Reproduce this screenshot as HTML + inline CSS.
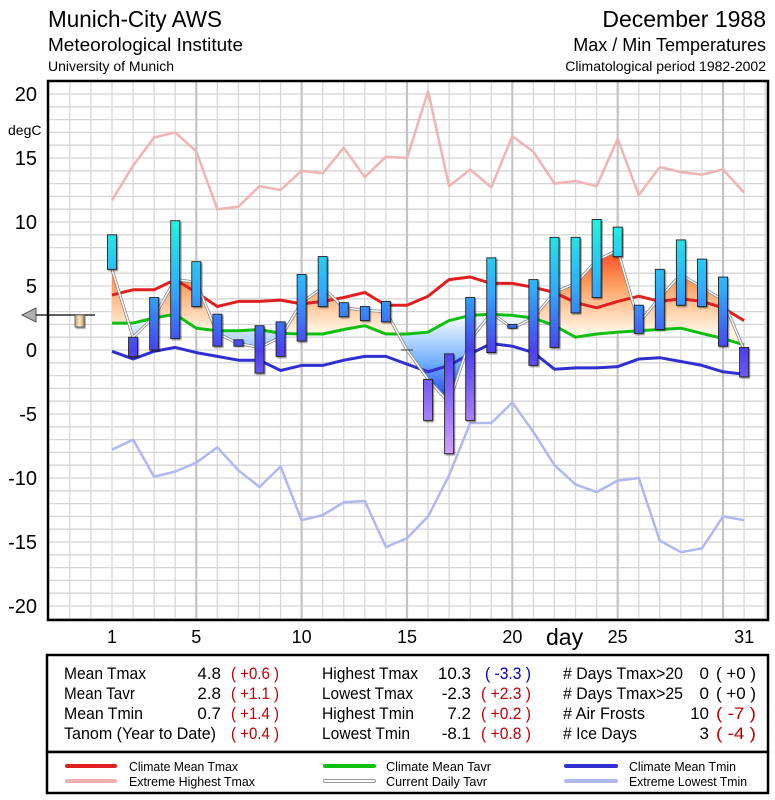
<!DOCTYPE html>
<html><head><meta charset="utf-8"><style>
html,body{margin:0;padding:0;background:#fff}
svg{display:block}
text{font-family:"Liberation Sans Narrow","Liberation Sans",sans-serif}
</style></head><body>
<svg id="c" width="775" height="800" viewBox="0 0 775 800" xmlns="http://www.w3.org/2000/svg">
<defs>
<filter id="sh" x="-20%" y="-20%" width="140%" height="140%"><feDropShadow dx="1.2" dy="1.2" stdDeviation="0.8" flood-color="#000" flood-opacity="0.5"/></filter>
<linearGradient id="barG" gradientUnits="userSpaceOnUse" x1="0" y1="222" x2="0" y2="455">
<stop offset="0" stop-color="#20f4e0"/><stop offset="0.3" stop-color="#30a8ff"/><stop offset="0.55" stop-color="#4a40f0"/><stop offset="1" stop-color="#d8a0ff"/></linearGradient>
<linearGradient id="orG" gradientUnits="userSpaceOnUse" x1="0" y1="240" x2="0" y2="330">
<stop offset="0" stop-color="#ff2a10"/><stop offset="0.5" stop-color="#ffa060"/><stop offset="1" stop-color="#fff4e0"/></linearGradient>
<linearGradient id="blG" gradientUnits="userSpaceOnUse" x1="0" y1="320" x2="0" y2="405">
<stop offset="0" stop-color="#eef6ff"/><stop offset="0.5" stop-color="#70b0ff"/><stop offset="1" stop-color="#1030ff"/></linearGradient>
<linearGradient id="tanG" x1="0" y1="0" x2="1" y2="0"><stop offset="0" stop-color="#c8a070"/><stop offset="0.5" stop-color="#ffe8c0"/><stop offset="1" stop-color="#c8a070"/></linearGradient>
<clipPath id="clipAbove"><path id="cpA"/></clipPath>
<clipPath id="clipBelow"><path id="cpB"/></clipPath>
</defs>
<g>
<text x="48" y="27" font-size="23" textLength="174" lengthAdjust="spacingAndGlyphs">Munich-City AWS</text>
<text x="48" y="51" font-size="18" textLength="195" lengthAdjust="spacingAndGlyphs">Meteorological Institute</text>
<text x="48" y="71" font-size="14">University of Munich</text>
<text x="766" y="27" font-size="23" text-anchor="end">December 1988</text>
<text x="766" y="51" font-size="18" text-anchor="end">Max / Min Temperatures</text>
<text x="766" y="71" font-size="14" text-anchor="end">Climatological period 1982-2002</text>
</g>
<g id="grid"></g>
<g id="plot"></g>
<rect x="48" y="81" width="720" height="539" fill="none" stroke="#000" stroke-width="2.5"/>
<g id="axes"></g>
<text x="8" y="135" font-size="14">degC</text>
<text x="546" y="645" font-size="23">day</text>
<g>
<polygon points="22,315 36,308 36,322" fill="#b0b0b0" stroke="#555" stroke-width="1"/>
<line x1="36" y1="315" x2="95" y2="315" stroke="#000" stroke-width="1.2"/>
<rect x="75" y="315" width="9" height="12" fill="url(#tanG)" stroke="#555" stroke-width="0.8" filter="url(#sh)"/>
</g>
<g>
<rect x="47" y="655" width="721" height="97" fill="#fff" stroke="#000" stroke-width="2.5"/>
<g font-size="17">
<text x="64" y="679" textLength="82" lengthAdjust="spacingAndGlyphs">Mean Tmax</text><text x="221" y="679" text-anchor="end">4.8</text><text x="231" y="679" textLength="48" lengthAdjust="spacingAndGlyphs" fill="#c00000">( +0.6 )</text>
<text x="64" y="699" textLength="71" lengthAdjust="spacingAndGlyphs">Mean Tavr</text><text x="221" y="699" text-anchor="end">2.8</text><text x="231" y="699" textLength="48" lengthAdjust="spacingAndGlyphs" fill="#c00000">( +1.1 )</text>
<text x="64" y="719" textLength="79" lengthAdjust="spacingAndGlyphs">Mean Tmin</text><text x="221" y="719" text-anchor="end">0.7</text><text x="231" y="719" textLength="48" lengthAdjust="spacingAndGlyphs" fill="#c00000">( +1.4 )</text>
<text x="64" y="739" textLength="152" lengthAdjust="spacingAndGlyphs">Tanom (Year to Date)</text><text x="231" y="739" textLength="48" lengthAdjust="spacingAndGlyphs" fill="#c00000">( +0.4 )</text>
<text x="322" y="679" textLength="96" lengthAdjust="spacingAndGlyphs">Highest Tmax</text><text x="471" y="679" text-anchor="end">10.3</text><text x="485" y="679" textLength="46" lengthAdjust="spacingAndGlyphs" fill="#0000c0">( -3.3 )</text>
<text x="322" y="699" textLength="91" lengthAdjust="spacingAndGlyphs">Lowest Tmax</text><text x="471" y="699" text-anchor="end">-2.3</text><text x="481" y="699" textLength="50" lengthAdjust="spacingAndGlyphs" fill="#c00000">( +2.3 )</text>
<text x="322" y="719" textLength="92" lengthAdjust="spacingAndGlyphs">Highest Tmin</text><text x="471" y="719" text-anchor="end">7.2</text><text x="481" y="719" textLength="50" lengthAdjust="spacingAndGlyphs" fill="#c00000">( +0.2 )</text>
<text x="322" y="739" textLength="88" lengthAdjust="spacingAndGlyphs">Lowest Tmin</text><text x="471" y="739" text-anchor="end">-8.1</text><text x="481" y="739" textLength="50" lengthAdjust="spacingAndGlyphs" fill="#c00000">( +0.8 )</text>
<text x="563" y="679" textLength="120" lengthAdjust="spacingAndGlyphs"># Days Tmax&gt;20</text><text x="709" y="679" text-anchor="end">0</text><text x="716" y="679" textLength="40" lengthAdjust="spacingAndGlyphs">( +0 )</text>
<text x="563" y="699" textLength="120" lengthAdjust="spacingAndGlyphs"># Days Tmax&gt;25</text><text x="709" y="699" text-anchor="end">0</text><text x="716" y="699" textLength="40" lengthAdjust="spacingAndGlyphs">( +0 )</text>
<text x="563" y="719" textLength="82" lengthAdjust="spacingAndGlyphs"># Air Frosts</text><text x="709" y="719" text-anchor="end">10</text><text x="716" y="719" textLength="40" lengthAdjust="spacingAndGlyphs" fill="#c00000">( -7 )</text>
<text x="563" y="739" textLength="74" lengthAdjust="spacingAndGlyphs"># Ice Days</text><text x="709" y="739" text-anchor="end">3</text><text x="716" y="739" textLength="40" lengthAdjust="spacingAndGlyphs" fill="#c00000">( -4 )</text>
</g></g>
<g>
<rect x="47" y="752" width="721" height="41" fill="#fff" stroke="#000" stroke-width="2.5"/>
<g font-size="13" stroke-linecap="round">
<line x1="67" y1="766" x2="115" y2="766" stroke="#e02020" stroke-width="4"/><text x="129" y="771" textLength="109" lengthAdjust="spacingAndGlyphs">Climate Mean Tmax</text>
<line x1="67" y1="781" x2="115" y2="781" stroke="#f0b0b0" stroke-width="4"/><text x="129" y="786" textLength="126" lengthAdjust="spacingAndGlyphs">Extreme Highest Tmax</text>
<line x1="325" y1="766" x2="374" y2="766" stroke="#10c010" stroke-width="4"/><text x="386" y="771" textLength="105" lengthAdjust="spacingAndGlyphs">Climate Mean Tavr</text>
<line x1="325" y1="781" x2="374" y2="781" stroke="#999" stroke-width="4"/><line x1="325" y1="781" x2="374" y2="781" stroke="#fff" stroke-width="2"/><text x="386" y="786" textLength="101" lengthAdjust="spacingAndGlyphs">Current Daily Tavr</text>
<line x1="566" y1="766" x2="616" y2="766" stroke="#3030d0" stroke-width="4"/><text x="629" y="771" textLength="107" lengthAdjust="spacingAndGlyphs">Climate Mean Tmin</text>
<line x1="566" y1="781" x2="616" y2="781" stroke="#b0b8f0" stroke-width="4"/><text x="629" y="786" textLength="118" lengthAdjust="spacingAndGlyphs">Extreme Lowest Tmin</text>
</g></g>
</svg>
<script>
const days=[1,2,3,4,5,6,7,8,9,10,11,12,13,14,15,16,17,18,19,20,21,22,23,24,25,26,27,28,29,30,31];
const tmax=[9.0,1.0,4.1,10.1,6.9,2.8,0.8,1.9,2.2,5.9,7.3,3.7,3.4,3.8,null,-2.3,-0.3,4.1,7.2,2.0,5.5,8.8,8.8,10.2,9.6,3.5,6.3,8.6,7.1,5.7,0.2];
const tmin=[6.3,-0.5,0.0,0.9,3.4,0.3,0.3,-1.8,-0.5,0.7,3.4,2.6,2.3,2.2,null,-5.5,-8.1,-5.5,-0.2,1.7,-1.2,0.2,2.9,4.1,7.3,1.3,1.6,3.5,3.4,0.3,-2.1];
const tavr=[6.3,1.0,2.6,5.5,5.3,1.3,0.5,0.2,1.0,3.7,4.9,3.3,3.1,3.0,0.0,-2.3,-4.1,0.8,2.9,1.7,2.5,4.5,5.2,7.0,7.8,2.1,4.1,5.9,4.9,3.9,0.0];
const climTmax=[4.3,4.7,4.7,5.5,4.5,3.4,3.8,3.8,3.9,3.6,3.8,4.1,4.5,3.5,3.5,4.2,5.5,5.7,5.2,5.2,4.9,4.5,3.7,3.3,3.8,4.2,3.8,4.0,3.8,3.3,2.3];
const climTavr=[2.1,2.1,2.5,2.8,1.7,1.5,1.5,1.6,1.3,1.25,1.25,1.6,1.9,1.25,1.25,1.4,2.3,2.7,2.8,2.7,2.5,1.9,1.0,1.25,1.4,1.5,1.6,1.7,1.3,0.9,0.4];
const climTmin=[-0.1,-0.7,-0.1,0.2,-0.2,-0.5,-0.8,-0.8,-1.6,-1.2,-1.2,-0.8,-0.5,-0.5,-1.1,-1.7,-1.2,-0.3,0.5,0.3,-0.2,-1.5,-1.4,-1.4,-1.3,-0.7,-0.6,-0.9,-1.2,-1.7,-1.9];
const extMax=[11.7,14.4,16.6,17.0,15.5,11.0,11.2,12.8,12.5,14.0,13.8,15.8,13.5,15.1,15.0,20.2,12.8,14.1,12.7,16.7,15.5,13.0,13.2,12.8,16.5,12.1,14.3,13.9,13.7,14.1,12.3];
const extMin=[-7.8,-7.0,-9.9,-9.5,-8.8,-7.6,-9.4,-10.7,-9.1,-13.3,-12.9,-11.9,-11.8,-15.4,-14.7,-13.0,-9.8,-5.7,-5.7,-4.1,-6.4,-9.0,-10.5,-11.1,-10.2,-10.0,-14.9,-15.8,-15.5,-13.0,-13.3];
const yTicks=[20,15,10,5,0,-5,-10,-15,-20];
const xTicks=[1,5,10,15,20,25,31];

const NS="http://www.w3.org/2000/svg";
const X=d=>112+21.07*(d-1);
const Y=v=>350-12.8*v;
function mk(tag,at,parent){const e=document.createElementNS(NS,tag);for(const k in at)e.setAttribute(k,at[k]);parent.appendChild(e);return e;}
const grid=document.getElementById('grid'),plot=document.getElementById('plot'),axes=document.getElementById('axes');
for(let v=-21;v<=21;v++){const y=Y(v);if(y<81||y>620)continue;
 const l=mk('line',{x1:48,x2:768,y1:y,y2:y,stroke:'#d4d4d4','stroke-width':1.3},grid);
 
 }
for(let d=-2;d<=32;d++){const x=X(d);if(x<49||x>767)continue;
 const major=(d>0&&d%5===0);
 const l=mk('line',{x1:x,x2:x,y1:81,y2:620,stroke:major?'#c4c4c4':'#d8d8d8','stroke-width':major?2.2:1.3},grid);
 
 }
yTicks.forEach(v=>{const t=mk('text',{x:37,y:Y(v)+7,'font-size':20,'text-anchor':'end'},axes);t.textContent=v;
 
 });
xTicks.forEach(d=>{const t=mk('text',{x:X(d),y:643,'font-size':18,'text-anchor':'middle'},axes);t.textContent=d;
 
 });
function pts(arr){return days.map((d,i)=>[X(d),Y(arr[i])]);}
function pathOf(p){return 'M'+p.map(q=>q[0].toFixed(1)+','+q[1].toFixed(1)).join('L');}
const g=pts(climTavr);
document.getElementById('cpA').setAttribute('d',pathOf(g)+`L${X(31)},81L${X(1)},81Z`);
document.getElementById('cpB').setAttribute('d',pathOf(g)+`L${X(31)},620L${X(1)},620Z`);
const ta=pts(tavr);
const band=pathOf(ta)+'L'+g.slice().reverse().map(q=>q[0].toFixed(1)+','+q[1].toFixed(1)).join('L')+'Z';
const fa=mk('path',{d:band,fill:'url(#orG)','clip-path':'url(#clipAbove)'},plot);


const fb=mk('path',{d:band,fill:'url(#blG)','clip-path':'url(#clipBelow)'},plot);


function line(arr,color,w,name){const p=mk('path',{d:pathOf(pts(arr)),fill:'none',stroke:color,'stroke-width':w,'stroke-linejoin':'round'},plot);
 
 return p;}
line(extMax,'#f0b4b4',2.5,'extreme-highest-tmax-line');
line(extMin,'#b0b8f0',2.5,'extreme-lowest-tmin-line');
line(climTmax,'#e02020',3,'climate-mean-tmax-line');
line(climTavr,'#10c010',3,'climate-mean-tavr-line');
line(climTmin,'#3030d0',3,'climate-mean-tmin-line');
line(tavr,'#888',3,'current-daily-tavr-outline');
line(tavr,'#fff',1.4,'current-daily-tavr-line');
days.forEach((d,i)=>{
 if(tmax[i]===null){const m=mk('line',{x1:X(d)-6,x2:X(d)+6,y1:Y(tavr[i]),y2:Y(tavr[i]),stroke:'#333','stroke-width':1},plot);
  
  return;}
 const y1=Y(tmax[i]),y2=Y(tmin[i]);
 const r=mk('rect',{x:X(d)-4.5,y:y1,width:9,height:Math.max(2,y2-y1),fill:'url(#barG)',stroke:'#222','stroke-width':0.9,filter:'url(#sh)'},plot);
 
 
});
</script>
</body></html>
